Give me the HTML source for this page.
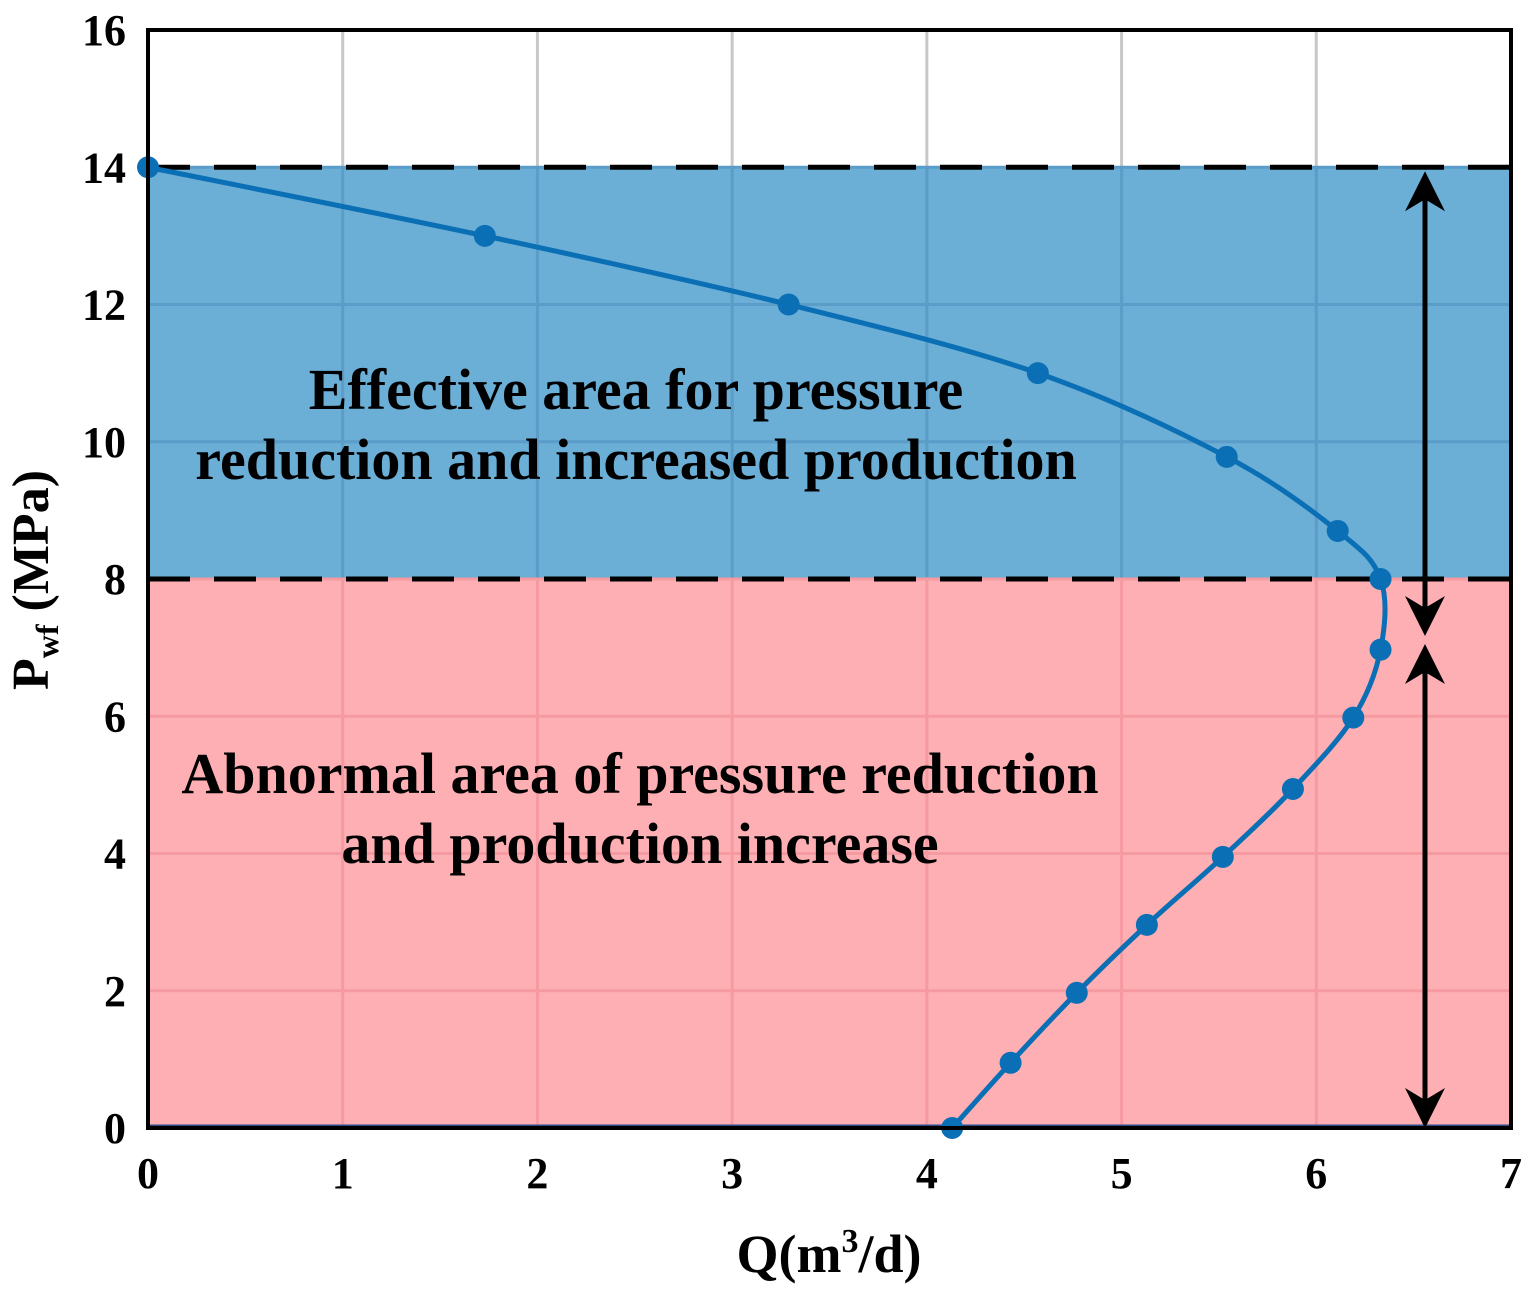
<!DOCTYPE html>
<html><head><meta charset="utf-8"><style>
body{margin:0;background:#fff}
text{font-family:"Liberation Serif",serif;font-weight:bold;fill:#000}
</style></head><body>
<svg width="1533" height="1294" viewBox="0 0 1533 1294">
<g id="plot"></g>
</svg>
<script>
const qValues=[0,1.73,3.29,4.57,5.54,6.11,6.33,6.33,6.19,5.88,5.52,5.13,4.77,4.43,4.13];
const pValues=[14,13,12,11,9.78,8.7,8,6.97,5.98,4.94,3.95,2.96,1.97,0.95,0];
const xTicks=[0,1,2,3,4,5,6,7];
const yTicks=[0,2,4,6,8,10,12,14,16];
const upperBound=14, lowerBound=8;
const X0=148,X1=1511,Y0=1128,Y1=30;
const sx=v=>X0+(X1-X0)*v/7, sy=v=>Y0-(Y0-Y1)*v/16;
const NS='http://www.w3.org/2000/svg';
const g=document.getElementById('plot');
function mk(t,a,p){const e=document.createElementNS(NS,t);for(const k in a)e.setAttribute(k,a[k]);(p||g).appendChild(e);return e;}
let r=mk('rect',{x:X0,y:sy(upperBound),width:X1-X0,height:sy(lowerBound)-sy(upperBound),fill:'#6baed6'});


r=mk('rect',{x:X0,y:sy(lowerBound),width:X1-X0,height:Y0-sy(lowerBound),fill:'#feafb4'});


xTicks.forEach(v=>{
 mk('line',{x1:sx(v),x2:sx(v),y1:Y1,y2:sy(upperBound),stroke:'#c8c8c8','stroke-width':3});
 mk('line',{x1:sx(v),x2:sx(v),y1:sy(upperBound),y2:sy(lowerBound),stroke:'#5b9cc8','stroke-width':3});
 mk('line',{x1:sx(v),x2:sx(v),y1:sy(lowerBound),y2:Y0,stroke:'#f59aa0','stroke-width':3});
 const t=mk('text',{x:sx(v),y:1188,'font-size':44,'text-anchor':'middle'});t.textContent=v;
 
 
});
yTicks.forEach(v=>{
 const c=v>upperBound?'#c8c8c8':v>lowerBound?'#5b9cc8':'#f59aa0';
 mk('line',{x1:X0,x2:X1,y1:sy(v),y2:sy(v),stroke:c,'stroke-width':3});
 const t=mk('text',{x:126,y:sy(v)+15,'font-size':44,'text-anchor':'end'});t.textContent=v;
 
 
});
mk('line',{x1:X0,x2:X1,y1:Y0-2,y2:Y0-2,stroke:'#2a4a8a','stroke-width':3});
[upperBound,lowerBound].forEach(v=>{
 const l=mk('line',{x1:X0,x2:X1,y1:sy(v),y2:sy(v),stroke:'#000','stroke-width':5,'stroke-dasharray':'42 24'});
 
 
});
const pts=qValues.map((q,i)=>[sx(q),sy(pValues[i])]);
let d='M'+pts[0];
for(let i=0;i<pts.length-1;i++){const p0=pts[Math.max(0,i-1)],p1=pts[i],p2=pts[i+1],p3=pts[Math.min(pts.length-1,i+2)];
 d+=` C${p1[0]+(p2[0]-p0[0])/6},${p1[1]+(p2[1]-p0[1])/6} ${p2[0]-(p3[0]-p1[0])/6},${p2[1]-(p3[1]-p1[1])/6} ${p2[0]},${p2[1]}`;}
const cv=mk('path',{d:d,fill:'none',stroke:'#0a6fb4','stroke-width':5});


pts.forEach(p=>{const c=mk('circle',{cx:p[0],cy:p[1],r:11,fill:'#0a6fb4'});
 
 });
const AX=1425;
function head(y,dir){ // dir -1 points up, +1 points down
 const b=y-dir*40, m=y-dir*28;
 const h=mk('path',{d:`M${AX},${y} L${AX-20},${b} L${AX},${m} L${AX+20},${b} Z`,fill:'#000'});
 
 
}
let a=mk('line',{x1:AX,x2:AX,y1:sy(upperBound)+10,y2:630,stroke:'#000','stroke-width':5});


head(sy(upperBound)+4,-1);head(636,1);
a=mk('line',{x1:AX,x2:AX,y1:650,y2:Y0-4,stroke:'#000','stroke-width':5});


head(644,-1);head(Y0,1);
const fr=mk('rect',{x:X0,y:Y1,width:X1-X0,height:Y0-Y1,fill:'none',stroke:'#000','stroke-width':4});


function label(txt,x,y,name){const t=mk('text',{x:x,y:y,'font-size':58,'text-anchor':'middle'});t.textContent=txt;
 
 }
label('Effective area for pressure',636,409,'effective-label-line1');
label('reduction and increased production',636,479,'effective-label-line2');
label('Abnormal area of pressure reduction',640,793,'abnormal-label-line1');
label('and production increase',640,863,'abnormal-label-line2');
const xt=mk('text',{x:829,y:1272,'font-size':54,'text-anchor':'middle'});
xt.innerHTML='Q(m<tspan dy="-20" font-size="34">3</tspan><tspan dy="20">/d)</tspan>';


const yt=mk('text',{x:0,y:0,'font-size':52,'text-anchor':'middle',transform:'translate(48,580) rotate(-90)'});
yt.innerHTML='P<tspan dy="10" font-size="32">wf</tspan><tspan dy="-10"> (MPa)</tspan>';


</script>
</body></html>
